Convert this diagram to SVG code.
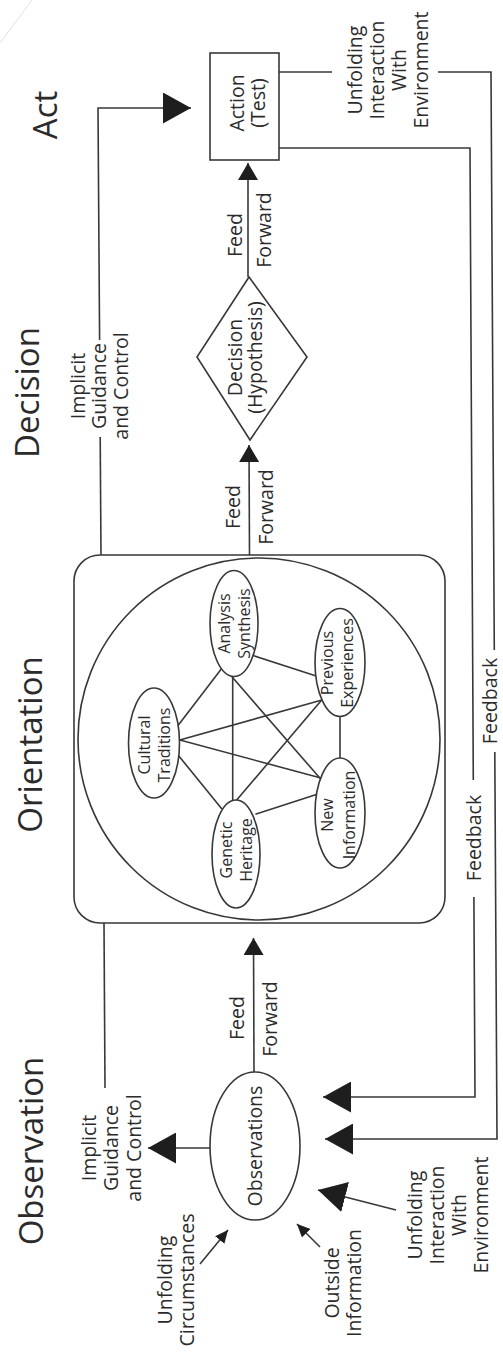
<svg xmlns="http://www.w3.org/2000/svg" width="503" height="1353" viewBox="0 0 503 1353">
  <defs>
    <style>
      .ln{fill:none;stroke:#383838;stroke-width:1.6}
      .shape{fill:#fff;stroke:#383838;stroke-width:1.6}
      .frame{fill:none;stroke:#383838;stroke-width:1.6}
      .t{font-family:"Open Sans","Liberation Sans",sans-serif;fill:#2b2b2b;text-anchor:middle}
      .title{font-size:33px}
      .lbl{font-size:19.5px}
      .sm{font-size:16px}
      .head{fill:#1e1e1e;stroke:none}
    </style>
    <marker id="big" markerUnits="userSpaceOnUse" markerWidth="28" markerHeight="31" viewBox="0 0 28 31" refX="28" refY="15.5" orient="auto">
      <path class="head" d="M0,0 L28,15.5 L0,31 Z"/>
    </marker>
    <marker id="mid" markerUnits="userSpaceOnUse" markerWidth="17" markerHeight="20" viewBox="0 0 17 20" refX="17" refY="10" orient="auto">
      <path class="head" d="M0,0 L17,10 L0,20 Z"/>
    </marker>
    <marker id="small" markerUnits="userSpaceOnUse" markerWidth="13" markerHeight="12" viewBox="0 0 13 12" refX="13" refY="6" orient="auto">
      <path class="head" d="M0,0 L13,6 L0,12 Z"/>
    </marker>
  </defs>

  <rect width="503" height="1353" fill="#fff"/>
  <!-- faint crease in the page corner -->
  <line x1="0" y1="43" x2="32" y2="0" stroke="#e2e2e2" stroke-width="1"/>

  <!-- stage headings -->
  <g id="stage-titles">
    <text class="t title" transform="translate(57,115) rotate(-90)">Act</text>
    <text class="t title" transform="translate(38.5,392.5) rotate(-90)">Decision</text>
    <text class="t title" transform="translate(42,744.5) rotate(-90)">Orientation</text>
    <text class="t title" transform="translate(43,1151) rotate(-90)">Observation</text>
  </g>

  <!-- connectors -->
  <g id="connectors">
    <!-- implicit guidance and control: orientation to action -->
    <path class="ln" d="M101,555 L100.2,437"/>
    <path class="ln" d="M99.6,340 L98,108 L191,108" marker-end="url(#big)"/>
    <!-- feed forward links -->
    <path class="ln" d="M249.5,555 L249,445" marker-end="url(#mid)"/>
    <path class="ln" d="M248,277 L248,163" marker-end="url(#mid)"/>
    <path class="ln" d="M254,1072 L253.5,938" marker-end="url(#mid)"/>
    <!-- unfolding interaction with environment: action back to observations -->
    <path class="ln" d="M279,72 L332,72"/>
    <path class="ln" d="M438,72 L491,72 L494.3,650"/>
    <path class="ln" d="M494.8,752 L497,1139 L325,1139" marker-end="url(#big)"/>
    <!-- feedback: action back to observations -->
    <path class="ln" d="M279,148 L470,148 L473.3,780"/>
    <path class="ln" d="M473.9,897 L475,1097 L323,1097" marker-end="url(#big)"/>
    <!-- implicit guidance and control: orientation to observations -->
    <path class="ln" d="M104,923 L105,1088"/>
    <path class="ln" d="M210,1148 L148,1148" marker-end="url(#big)"/>
    <!-- outside inputs -->
    <path class="ln" d="M200,1264 L228,1230" marker-end="url(#small)"/>
    <path class="ln" d="M320,1247 L297,1224" marker-end="url(#small)"/>
    <path class="ln" d="M396,1210 L318,1190" marker-end="url(#big)"/>
    <!-- orientation cross-links -->
    <g id="orientation-links">
      <line class="ln" x1="176.5" y1="727.4" x2="221.1" y2="669.3"/>
      <line class="ln" x1="177.1" y1="740.8" x2="324.6" y2="699.2"/>
      <line class="ln" x1="177.1" y1="739.2" x2="324.6" y2="779.1"/>
      <line class="ln" x1="174.8" y1="751" x2="221.9" y2="809"/>
      <line class="ln" x1="232.7" y1="675.3" x2="232.7" y2="803"/>
      <line class="ln" x1="253.8" y1="655.8" x2="316.2" y2="675.9"/>
      <line class="ln" x1="231.3" y1="676" x2="322" y2="780.6"/>
      <line class="ln" x1="234.8" y1="802.3" x2="323.6" y2="697.7"/>
      <line class="ln" x1="255.4" y1="814.2" x2="317.9" y2="794.1"/>
      <line class="ln" x1="340" y1="713.7" x2="340" y2="761.3"/>
    </g>
  </g>

  <!-- connector labels -->
  <g id="labels">
    <text class="t lbl" transform="translate(84.5,386) rotate(-90)"><tspan x="0" y="0">Implicit</tspan><tspan x="0" dy="21.9">Guidance</tspan><tspan x="0" dy="21.9">and Control</tspan></text>
    <text class="t lbl" transform="translate(96,1148) rotate(-90)"><tspan x="0" y="0">Implicit</tspan><tspan x="0" dy="22.4">Guidance</tspan><tspan x="0" dy="22.4">and Control</tspan></text>
    <text class="t lbl" transform="translate(242,235) rotate(-90)">Feed</text>
    <text class="t lbl" transform="translate(271,230) rotate(-90)">Forward</text>
    <text class="t lbl" transform="translate(240,507) rotate(-90)">Feed</text>
    <text class="t lbl" transform="translate(273,507) rotate(-90)">Forward</text>
    <text class="t lbl" transform="translate(244,1018) rotate(-90)">Feed</text>
    <text class="t lbl" transform="translate(277,1019) rotate(-90)">Forward</text>
    <text class="t lbl" transform="translate(361.5,70) rotate(-90)"><tspan x="0" y="0">Unfolding</tspan><tspan x="0" dy="22">Interaction</tspan><tspan x="0" dy="22">With</tspan><tspan x="0" dy="22">Environment</tspan></text>
    <text class="t lbl" transform="translate(497,701) rotate(-90)">Feedback</text>
    <text class="t lbl" transform="translate(480.5,838) rotate(-90)">Feedback</text>
    <text class="t lbl" transform="translate(172,1280) rotate(-90)"><tspan x="0" y="0">Unfolding</tspan><tspan x="0" dy="22">Circumstances</tspan></text>
    <text class="t lbl" transform="translate(338.5,1283) rotate(-90)"><tspan x="0" y="0">Outside</tspan><tspan x="0" dy="22.3">Information</tspan></text>
    <text class="t lbl" transform="translate(422,1215) rotate(-90)"><tspan x="0" y="0">Unfolding</tspan><tspan x="0" dy="22">Interaction</tspan><tspan x="0" dy="22">With</tspan><tspan x="0" dy="22">Environment</tspan></text>
  </g>

  <!-- action -->
  <g id="action">
    <rect class="shape" x="210" y="53" width="69" height="107"/>
    <text class="t lbl" transform="translate(243.5,103) rotate(-90)"><tspan x="0" y="0">Action</tspan><tspan x="0" dy="21.5">(Test)</tspan></text>
  </g>

  <!-- decision -->
  <g id="decision">
    <polygon class="shape" points="249,277 307,357 250,440 197,357"/>
    <text class="t lbl" transform="translate(242,357.5) rotate(-90)"><tspan x="0" y="0">Decision</tspan><tspan x="0" dy="19.5">(Hypothesis)</tspan></text>
  </g>

  <!-- orientation -->
  <g id="orientation">
    <rect class="frame" x="74" y="555" width="371" height="368" rx="26" ry="26"/>
    <circle class="frame" cx="259" cy="739" r="181"/>
    <g id="analysis-synthesis">
      <ellipse class="shape" cx="234" cy="623.5" rx="24" ry="53"/>
      <text class="t sm" transform="translate(230,623.5) rotate(-90)"><tspan x="0" y="0">Analysis</tspan><tspan x="0" dy="20">Synthesis</tspan></text>
    </g>
    <g id="previous-experiences">
      <ellipse class="shape" cx="340" cy="662.5" rx="25" ry="54"/>
      <text class="t sm" transform="translate(332.5,663) rotate(-90)"><tspan x="0" y="0">Previous</tspan><tspan x="0" dy="20">Experiences</tspan></text>
    </g>
    <g id="cultural-traditions">
      <ellipse class="shape" cx="154" cy="743" rx="25.5" ry="55"/>
      <text class="t sm" transform="translate(149.5,745) rotate(-90)"><tspan x="0" y="0">Cultural</tspan><tspan x="0" dy="20">Traditions</tspan></text>
    </g>
    <g id="genetic-heritage">
      <ellipse class="shape" cx="236" cy="854" rx="24" ry="54"/>
      <text class="t sm" transform="translate(232,850) rotate(-90)"><tspan x="0" y="0">Genetic</tspan><tspan x="0" dy="20">Heritage</tspan></text>
    </g>
    <g id="new-information">
      <ellipse class="shape" cx="340" cy="813" rx="25" ry="55"/>
      <text class="t sm" transform="translate(333,815) rotate(-90)"><tspan x="0" y="0">New</tspan><tspan x="0" dy="22">Information</tspan></text>
    </g>
  </g>

  <!-- observations -->
  <g id="observations">
    <ellipse class="shape" cx="255" cy="1146" rx="45" ry="74"/>
    <text class="t lbl" transform="translate(262,1146) rotate(-90)">Observations</text>
  </g>
</svg>
